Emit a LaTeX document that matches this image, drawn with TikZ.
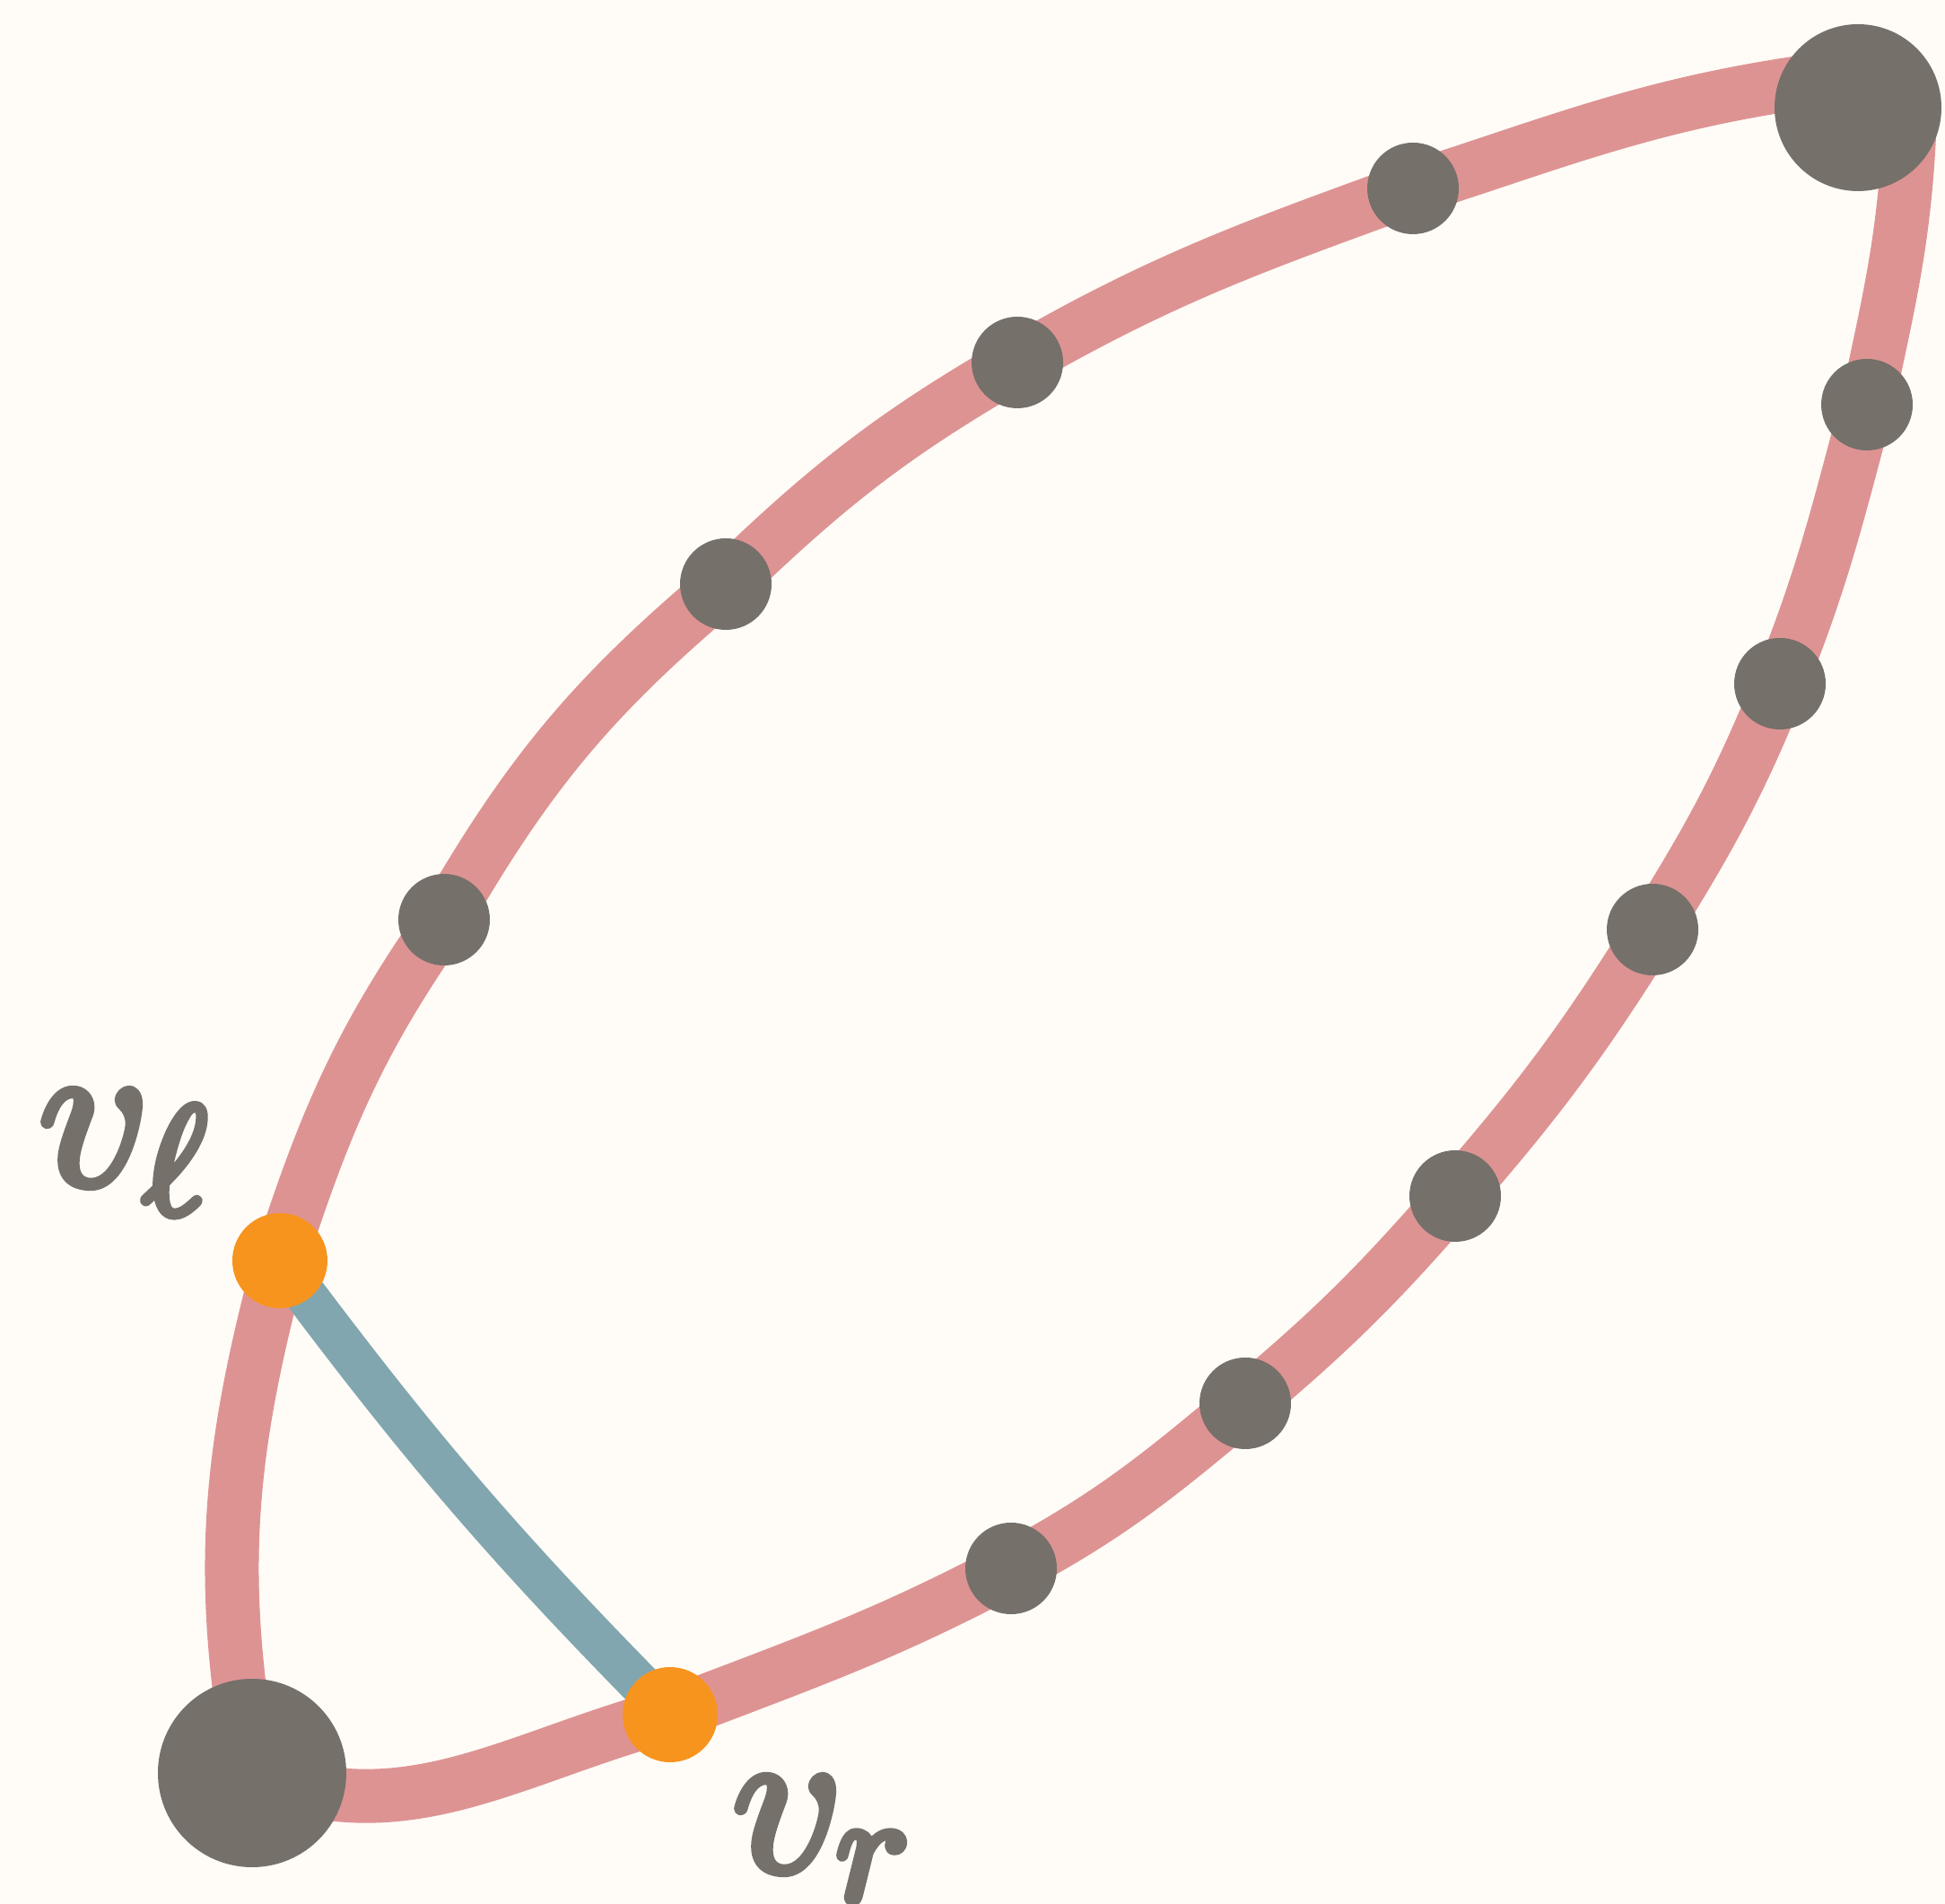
\documentclass[tikz,border=0pt]{standalone}
\usepackage{fontspec}
\newfontfamily\labfont{latinmodern-math.otf}
\newcommand\heavy[1]{\special{pdf:literal direct 2 Tr 2.6 w 1 j}#1\special{pdf:literal direct 0 Tr}}
\usetikzlibrary{backgrounds}
\definecolor{PaperColor}{HTML}{FFFCF7}
\definecolor{RimColor}{HTML}{DE9393}
\definecolor{ChordColor}{HTML}{82A6AF}
\definecolor{DotColor}{HTML}{75706A}
\definecolor{EndColor}{HTML}{F7941E}

\begin{document}
\begin{tikzpicture}[
    dot/.style={circle, fill=DotColor, inner sep=0pt, minimum size=1.02cm},
    bigdot/.style={circle, fill=DotColor, inner sep=0pt, minimum size=#1},
    enddot/.style={circle, fill=EndColor, inner sep=0pt, minimum size=1.06cm},
    rim/.style={RimColor, line width=0.6cm, line cap=round, line join=round},
    chord/.style={ChordColor, line width=0.47cm, line cap=round},
    vlabel/.style={text=DotColor, inner sep=0pt, anchor=base west,
      font=\labfont\fontsize{68}{68}\selectfont}
  ]
  % ===== Frame =====
  \def\pagew{21.68}
  \def\pageh{21.22}
  \def\sub#1{\raisebox{-0.33cm}{\fontsize{49}{49}\selectfont #1}}
  \useasboundingbox (0,0) rectangle (\pagew,\pageh);

  % ===== Corner vertices =====
  \node[bigdot=2.10cm] (bl) at (2.81,1.46) {};
  \node[bigdot=1.86cm] (tr) at (20.71,20.02) {};

  % ===== Upper chain =====
  \node[dot] (u1) at (4.95,10.97) {};
  \node[dot] (u2) at (8.09,14.71) {};
  \node[dot] (u3) at (11.34,17.18) {};
  \node[dot] (u4) at (15.75,19.12) {};

  % ===== Lower chain =====
  \node[dot] (w1) at (20.81,16.71) {};
  \node[dot] (w2) at (19.84,13.60) {};
  \node[dot] (w3) at (18.42,10.86) {};
  \node[dot] (w4) at (16.22,7.89) {};
  \node[dot] (w5) at (13.88,5.58) {};
  \node[dot] (w6) at (11.27,3.74) {};

  % ===== Chord ends =====
  \node[enddot] (vl) at (3.12,7.17) {};
  \node[enddot] (vr) at (7.47,2.11) {};

  % ===== Labels =====
  \node[vlabel] (vllabel) at (0.42,8.02) {\heavy{𝑣\sub{ℓ}}};
  \node[vlabel] (vrlabel) at (8.15,0.37) {\heavy{𝑣\sub{𝑟}}};

  % ===== Edges (behind the vertices) =====
  \begin{pgfonlayer}{background}
    \fill[PaperColor] (0,0) rectangle (\pagew,\pageh);
    % upper rim
    \draw[rim] (bl.center) to[out=100,in=-105] (vl.center)
      to[out=72,in=-125] (u1.center)
      to[out=60,in=-140] (u2.center)
      to[out=44,in=-150] (u3.center)
      to[out=30,in=-160] (u4.center)
      to[out=18,in=-172] ([shift={(-0.5,0.3)}]tr.center);
    % lower rim
    \draw[rim] ([shift={(0.57,-0.32)}]tr.center) to[out=-93,in=78] (w1.center)
      to[out=-105,in=68] (w2.center)
      to[out=-112,in=58] (w3.center)
      to[out=-122,in=49] (w4.center)
      to[out=-131,in=40] (w5.center)
      to[out=-140,in=28] (w6.center)
      to[out=-152,in=21] (vr.center)
      to[out=-165,in=-22] (bl.center);
    % chord
    \draw[chord] (vl.center) to[bend right=4] (vr.center);
  \end{pgfonlayer}
\end{tikzpicture}
\end{document}
